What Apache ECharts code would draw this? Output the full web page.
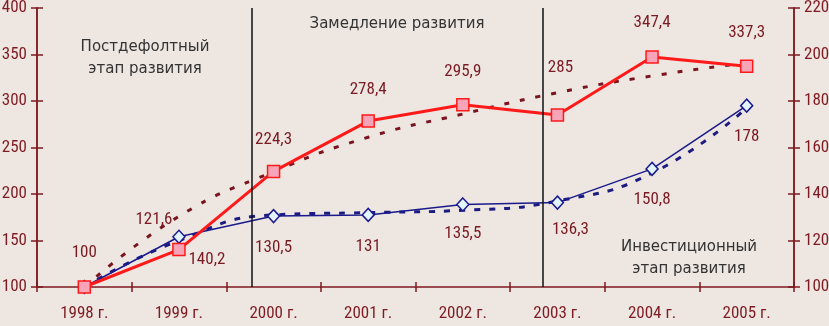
<!DOCTYPE html>
<html><head><meta charset="utf-8">
<script src="https://cdn.jsdelivr.net/npm/echarts@6/dist/echarts.min.js"></script>
<style>html,body{margin:0;padding:0;background:#ede6e1}#c{width:829px;height:326px}</style>
</head><body><div id="c"></div>
<script>
var years = ['1998 г.','1999 г.','2000 г.','2001 г.','2002 г.','2003 г.','2004 г.','2005 г.'];
var redValues = [100, 140.2, 224.3, 278.4, 295.9, 285, 347.4, 337.3];
var blueValues = [100, 121.6, 130.5, 131, 135.5, 136.3, 150.8, 178];
var redTrend = [100, 176, 224, 261, 286, 309, 327, 341];
var blueTrend = [100, 120, 131, 132, 133, 137, 149, 177];
var leftTicks = [100, 150, 200, 250, 300, 350, 400];
var rightTicks = [100, 120, 140, 160, 180, 200, 220];
var phaseBorders = [2.27, 5.35];
var redLabelOffsets = [[0,-34],[28,10],[0,-32],[0,-31],[0,-33],[3,-47],[0,-34],[0,-34]];
var blueLabelOffsets = [[0,0],[-25,-17],[0,32],[0,32],[0,29],[13,27],[0,31],[0,31]];

var AX = '#7e1b22';
var NARROW = '"Roboto Condensed","Liberation Sans Narrow",sans-serif';
function fmt(v){ return String(v).replace('.', ','); }
function mkData(vals, offs, hideFirst){
  return vals.map(function(v,i){
    return {value: v, label: {show: !(hideFirst && i===0), position: 'inside', offset: offs[i]}};
  });
}
var lbl = {color: '#7a1a22', fontFamily: NARROW, fontSize: 17, formatter: function(p){return fmt(p.value);}};

var chart = echarts.init(document.getElementById('c'));
function yAx(pos, ticks, inside, labels){
  return {
    type: 'value', position: pos,
    min: ticks[0], max: ticks[ticks.length-1], interval: ticks[1]-ticks[0],
    axisLine: {show: true, lineStyle: {color: AX, width: 1.5}},
    axisTick: {show: true, inside: inside, length: 6, lineStyle: {color: AX, width: 1.5}},
    axisLabel: {show: labels, color: AX, fontFamily: NARROW, fontSize: 17, margin: pos==='left' ? 10 : 10},
    splitLine: {show: false}
  };
}
chart.setOption({
  backgroundColor: '#ede6e1',
  animation: false,
  grid: {left: 37, right: 35, top: 8, bottom: 39, containLabel: false, outerBoundsMode: 'none'},
  xAxis: [
    {type: 'category', data: years, boundaryGap: true,
     axisLine: {lineStyle: {color: AX, width: 1.5}},
     axisTick: {show: true, inside: false, length: 5, lineStyle: {color: AX, width: 1.5}},
     axisLabel: {color: AX, fontFamily: NARROW, fontSize: 17, margin: 18}},
    {type: 'category', data: years, boundaryGap: true, position: 'bottom',
     axisLine: {show: false},
     axisTick: {show: true, inside: true, length: 5, lineStyle: {color: AX, width: 1.5}},
     axisLabel: {show: false}},
    {type: 'value', min: 0, max: 8, show: false}
  ],
  yAxis: [
    yAx('left', leftTicks, false, true),
    yAx('right', rightTicks, false, true),
    yAx('left', leftTicks, true, false),
    yAx('right', rightTicks, true, false)
  ],
  series: [
    {type: 'line', data: redTrend, xAxisIndex: 0, yAxisIndex: 0, smooth: true, symbol: 'none',
     lineStyle: {color: '#7a1520', width: 3, type: [5, 11]}, z: 1},
    {type: 'line', data: blueTrend, xAxisIndex: 0, yAxisIndex: 1, smooth: true, symbol: 'none',
     lineStyle: {color: '#1c1c80', width: 3, type: [6, 9]}, z: 1},
    {type: 'line', data: mkData(blueValues, blueLabelOffsets, true), xAxisIndex: 0, yAxisIndex: 1,
     symbol: 'diamond', symbolSize: [12, 13],
     itemStyle: {color: '#e2f4ff', borderColor: '#1a1a8c', borderWidth: 1.5},
     lineStyle: {color: '#1a1a8c', width: 1.5}, label: lbl, z: 3},
    {type: 'line', data: mkData(redValues, redLabelOffsets, false), xAxisIndex: 0, yAxisIndex: 0,
     symbol: 'rect', symbolSize: 12,
     itemStyle: {color: '#f7a3b8', borderColor: '#ff1a1a', borderWidth: 1.5},
     lineStyle: {color: '#ff1a1a', width: 3}, label: lbl, z: 4},
    {type: 'line', data: [], xAxisIndex: 2, yAxisIndex: 0,
     markLine: {silent: true, symbol: 'none', label: {show: false},
       lineStyle: {color: '#111', width: 1.5, type: 'solid'},
       data: phaseBorders.map(function(x){ return {xAxis: x}; })}}
  ],
  graphic: [
    {type: 'text', x: 145, y: 36, style: {text: 'Постдефолтный\nэтап развития', textAlign: 'center', fill: '#333', font: '15px "DejaVu Sans"', lineHeight: 22}},
    {type: 'text', x: 397, y: 17, style: {text: 'Замедление развития', textAlign: 'center', fill: '#333', font: '15px "DejaVu Sans"'}},
    {type: 'text', x: 689, y: 236, style: {text: 'Инвестиционный\nэтап развития', textAlign: 'center', fill: '#333', font: '15px "DejaVu Sans"', lineHeight: 22}}
  ]
});
</script></body></html>
